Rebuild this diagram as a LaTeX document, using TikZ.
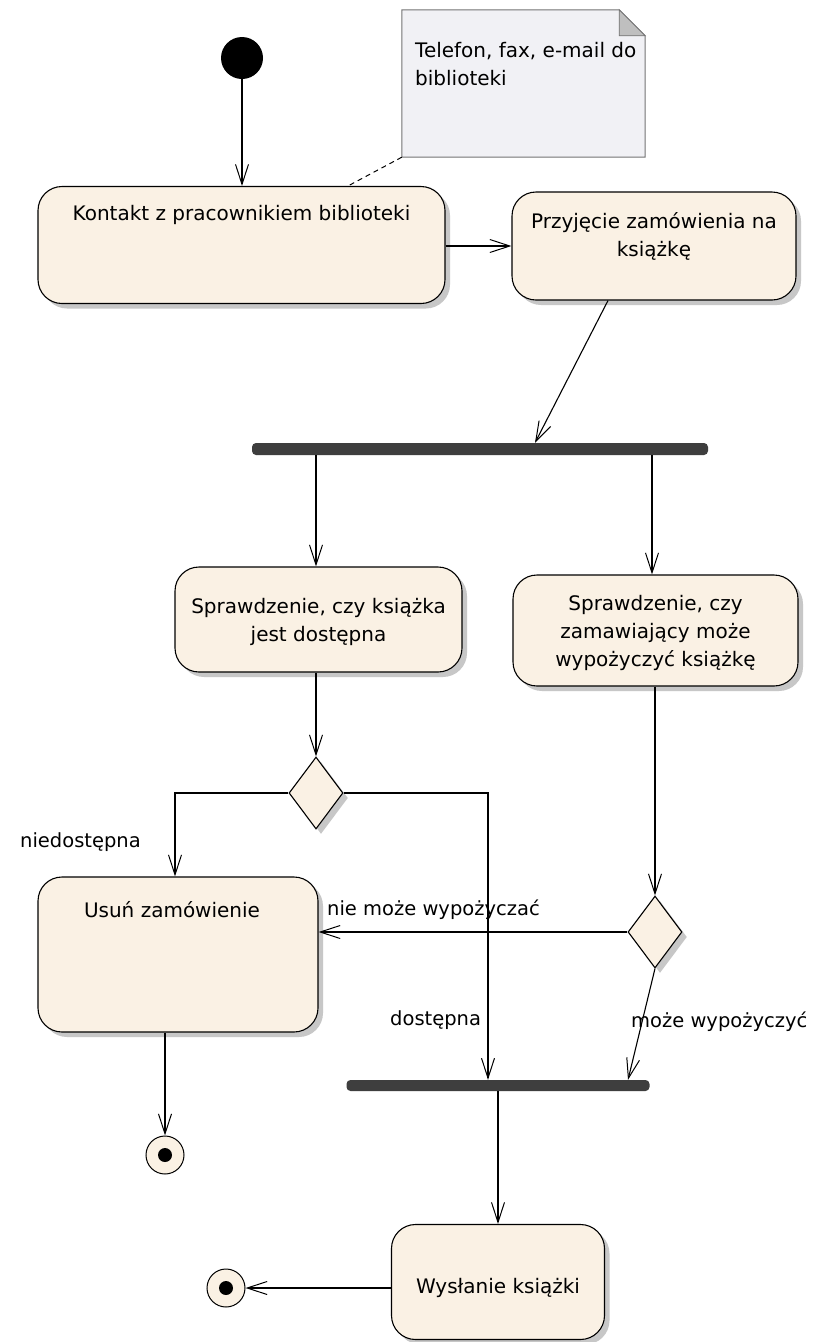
\documentclass[tikz,border=0pt]{standalone}
\usepackage{fontspec}
\setmainfont{DejaVu Sans}
\usetikzlibrary{arrows.meta,shapes.geometric,shadows}

\definecolor{actfill}{RGB}{250,241,228}
\definecolor{notefill}{RGB}{241,241,245}
\definecolor{barfill}{RGB}{62,62,62}

\tikzset{
  flow/.style={draw=black, line width=1.1pt,
    -{Straight Barb[length=20pt,width=13pt,line width=1pt]}},
  softshadow/.style={drop shadow={shadow xshift=5pt, shadow yshift=-5pt,
    fill=black!40, opacity=0.55}},
  action/.style={draw=black, line width=1.1pt, fill=actfill,
    rounded corners=24pt, inner sep=0, softshadow},
  txt/.style={font=\fontsize{20}{28}\selectfont, align=center, inner sep=0},
  guard/.style={font=\fontsize{19.5}{24}\selectfont, inner sep=0, anchor=west},
  syncbar/.style={fill=barfill, rounded corners=4pt, inner sep=0, draw=none},
  decision/.style={diamond, draw=black, line width=1.1pt, fill=actfill,
    minimum width=54pt, minimum height=72pt, inner sep=0, softshadow},
  initial/.style={circle, fill=black, minimum size=42pt, inner sep=0},
  final/.style={circle, draw=black, line width=1pt, fill=actfill,
    minimum size=38pt, inner sep=0,
    path picture={\fill[black] (path picture bounding box.center) circle (7pt);}},
}

\begin{document}
\begin{tikzpicture}[x=1pt, y=-1pt]
  \useasboundingbox[fill=white] (0,0) rectangle (817,1342);

  % start
  \node[initial] (start) at (242,58) {};

  % comment note with folded corner
  \node[minimum width=243pt, minimum height=147pt, inner sep=0] (note) at (523.5,83.5) {};
  \draw[fill=notefill, draw=black!55, line width=1pt]
    (note.north west) -- ([xshift=-26pt]note.north east)
    -- ([yshift=-26pt]note.north east) -- (note.south east)
    -- (note.south west) -- cycle;
  \draw[fill=black!25, draw=black!55, line width=0.8pt]
    ([xshift=-26pt]note.north east) -- ([xshift=-26pt,yshift=-26pt]note.north east)
    -- ([yshift=-26pt]note.north east) -- cycle;
  \node[txt, align=left, anchor=west] (notetext) at (415,64)
    {Telefon, fax, e-mail do\\biblioteki};

  % actions
  \node[action, minimum width=407pt, minimum height=117pt] (kontakt) at (241.5,245) {};
  \node[txt] (kontakt-t) at (241.5,215) {Kontakt z pracownikiem biblioteki};

  \node[action, minimum width=284pt, minimum height=108pt] (przyj) at (654,246) {};
  \node[txt] (przyj-t) at (654,236) {Przyjęcie zamówienia na\\książkę};

  \node[syncbar, minimum width=456pt, minimum height=12pt] (fork) at (480,449) {};

  \node[action, minimum width=287pt, minimum height=105pt] (spr1) at (318.5,619.5) {};
  \node[txt] (spr1-t) at (318.5,621.5) {Sprawdzenie, czy książka\\jest dostępna};

  \node[action, minimum width=285pt, minimum height=111pt] (spr2) at (655.5,630.5) {};
  \node[txt] (spr2-t) at (655.5,633) {Sprawdzenie, czy\\zamawiający może\\wypożyczyć książkę};

  \node[decision] (d1) at (316,793) {};
  \node[decision] (d2) at (655,932) {};

  \node[action, minimum width=280pt, minimum height=155pt] (usun) at (178,954.5) {};
  \node[txt] (usun-t) at (172,910) {Usuń zamówienie};

  \node[syncbar, minimum width=303pt, minimum height=11pt] (join) at (498,1085.5) {};

  \node[action, minimum width=213pt, minimum height=115pt] (wys) at (498,1282) {};
  \node[txt] (wys-t) at (498,1288) {Wysłanie książki};

  \node[final] (end1) at (165,1155) {};
  \node[final] (end2) at (226,1288) {};

  % note attachment
  \draw[dashed, line width=1pt, dash pattern=on 5pt off 4pt]
    (note.south west) -- ([xshift=106.5pt]kontakt.north);

  % control flows
  \draw[flow] (start) -- (start |- kontakt.north);
  \draw[flow] (kontakt.east |- przyj.west) -- (przyj.west);
  \draw[flow] ([xshift=-46pt]przyj.south) -- ([xshift=55pt]fork.north);
  \draw[flow] (fork.south -| 316,0) -- (spr1.north -| 316,0);
  \draw[flow] (fork.south -| 652,0) -- (spr2.north -| 652,0);
  \draw[flow] (spr1.south -| d1) -- (d1.north);
  \draw[flow] (spr2.south -| d2) -- (d2.north);
  \draw[flow] (d1.west) -| (usun.north -| 175,0);
  \draw[flow] (d1.east) -| (join.north -| 488,0);
  \draw[flow] (d2.west) -- (d2.west -| usun.east);
  \draw[flow] (d2.south) -- (join.north -| 628,0);
  \draw[flow] (usun.south -| end1) -- (end1);
  \draw[flow] (join.south) -- (wys.north);
  \draw[flow] (wys.west |- end2) -- (end2);

  % guards
  \node[guard] (g-nied) at (20,842) {niedostępna};
  \node[guard] (g-dost) at (390,1020) {dostępna};
  \node[guard] (g-nie) at (327,910) {nie może wypożyczać};
  \node[guard] (g-moze) at (631,1022) {może wypożyczyć};
\end{tikzpicture}
\end{document}
